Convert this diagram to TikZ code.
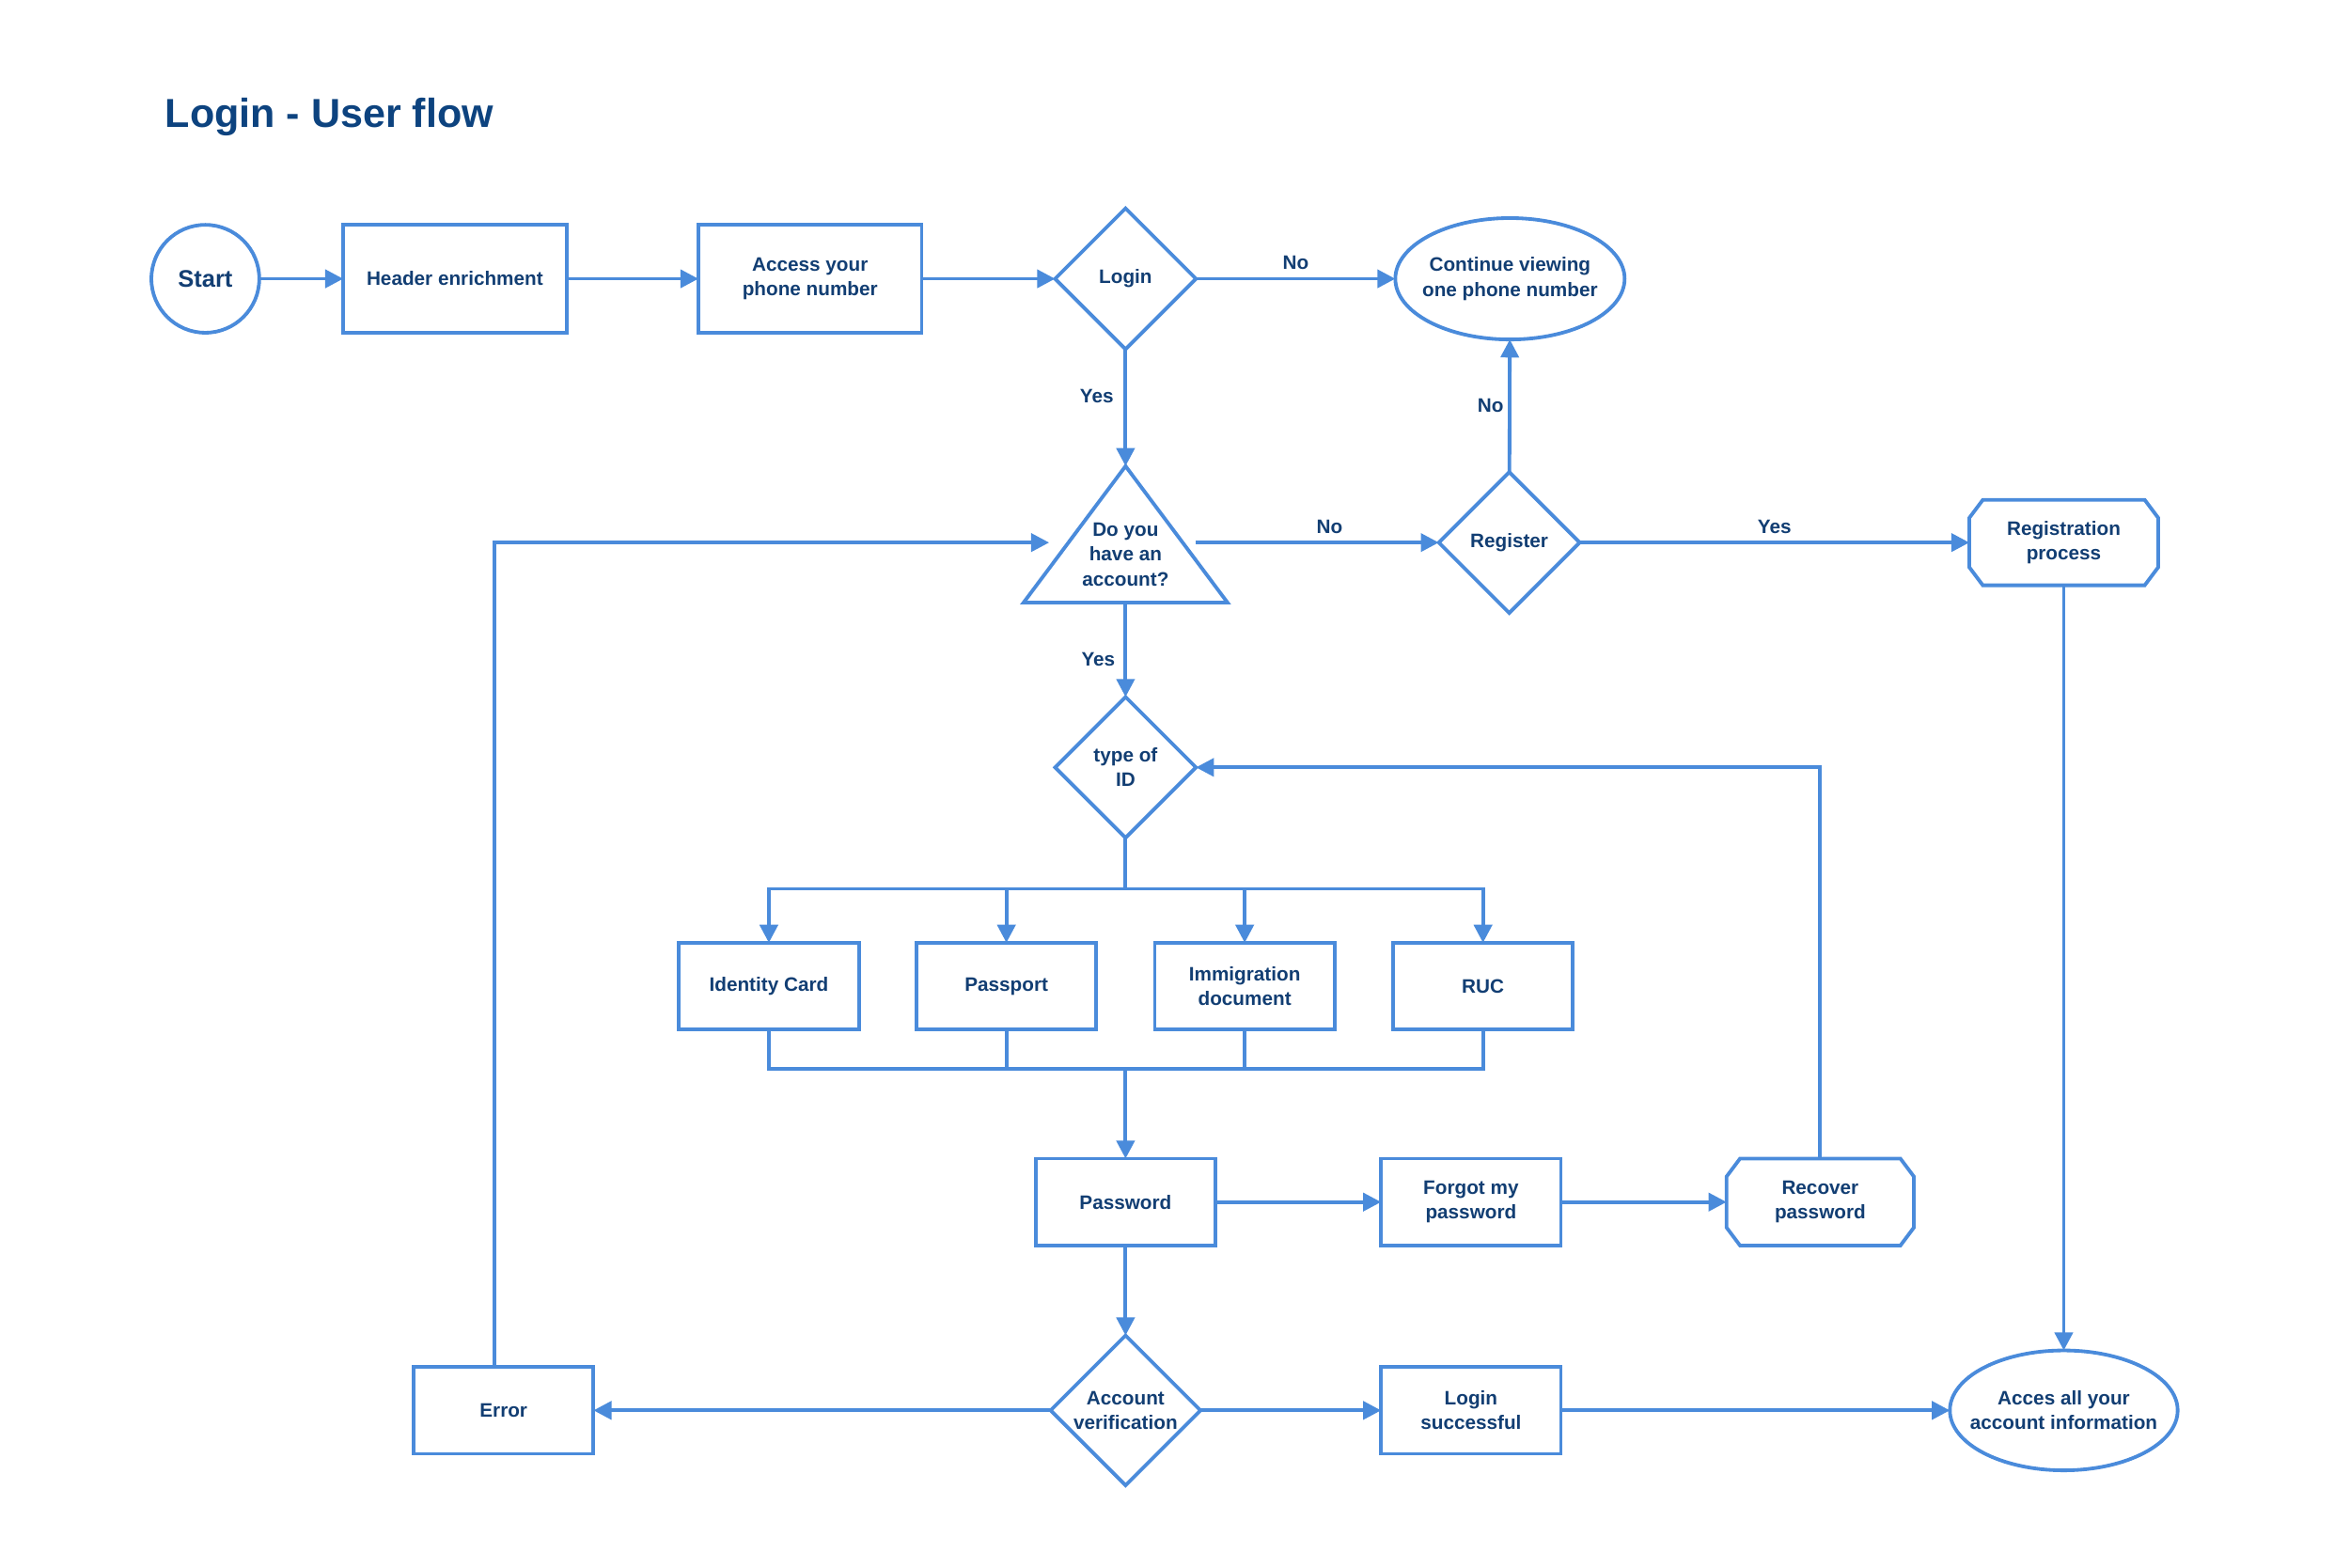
\documentclass[tikz,border=0pt]{standalone}
\usepackage{fontspec}
\setmainfont{Liberation Sans}
\usetikzlibrary{arrows.meta,shapes.geometric,calc}
\definecolor{lineblue}{HTML}{4A8BDB}
\definecolor{txtnavy}{HTML}{123E73}
\definecolor{titleblue}{HTML}{0D437F}
\newcommand\chamferbox[1]{%
  \draw[ln,line join=miter] ([xshift=9pt]#1.north west) -- ([xshift=-9pt]#1.north east)
    -- ([yshift=-12pt]#1.north east) -- ([yshift=12pt]#1.south east)
    -- ([xshift=-9pt]#1.south east) -- ([xshift=9pt]#1.south west)
    -- ([yshift=12pt]#1.south west) -- ([yshift=-12pt]#1.north west) -- cycle;}
\newcommand\ovalpath[3]{%
  \draw[ln] (#1.center) ellipse [x radius=#2, y radius=#3];}
\begin{document}
\begin{tikzpicture}[x=1pt,y=-1pt,
  base/.style={font=\fontsize{13}{16.5}\selectfont\bfseries, text=txtnavy, align=center, inner sep=0pt, outer sep=0pt},
  ln/.style={draw=lineblue, line width=2.4pt},
  arr/.style={ln, -{Triangle[length=12pt,width=12pt]}},
  box/.style={base, ln, rectangle, minimum width=120pt, minimum height=58pt},
  bigbox/.style={box, minimum width=149pt, minimum height=72pt},
  decision/.style={base, ln, diamond, aspect=1, minimum width=94pt, minimum height=94pt},
  plain/.style={base, minimum width=126pt, minimum height=57pt},
  lab/.style={base}
]
\fill[white] (0,0) rectangle (1568,1046);
\useasboundingbox (0,0) rectangle (1568,1046);

\node[anchor=base west, font=\fontsize{27}{32}\selectfont\bfseries, text=titleblue, inner sep=0pt] (title) at (110,85) {Login - User flow};

% row 1
\node[base, ln, circle, minimum size=72pt, font=\fontsize{16}{19}\selectfont\bfseries] (start) at (137,186) {Start};
\node[bigbox] (hdr) at (303.5,186) {Header enrichment};
\node[bigbox] (acc) at (540.5,186) {Access your\\phone number};
\node[decision] (login) at (751,186) {Login};
\node[plain, minimum width=153pt, minimum height=81pt] (cont) at (1007.5,186) {Continue viewing\\one phone number};
\ovalpath{cont}{76.5pt}{40.5pt}

% triangle
\node[base, minimum width=136pt, minimum height=91pt] (acct) at (751,356.5) {};
\draw[ln, line join=miter] (acct.south west) -- (acct.south east) -- (acct.north) -- cycle;
\node[base] (accttxt) at (751,370) {Do you\\have an\\account?};
\coordinate (acctR) at (798,362);
\coordinate (acctL) at (700,362);

\node[decision] (reg) at (1007,362) {Register};
\node[plain] (regp) at (1377,362) {Registration\\process};
\chamferbox{regp}

\node[decision] (tid) at (751,512) {type of\\ID};

\node[box] (idc) at (513,658) {Identity Card};
\node[box] (pas) at (671.5,658) {Passport};
\node[box] (imm) at (830.5,658) {Immigration\\document};
\node[box] (ruc) at (989.5,658) {RUC};

\node[box] (pwd) at (751,802) {Password};
\node[box] (fgt) at (981.5,802) {Forgot my\\password};
\node[plain, minimum width=125pt, minimum height=58pt] (rec) at (1214.5,802) {Recover\\password};
\chamferbox{rec}

\node[decision, minimum width=100pt, minimum height=100pt] (accv) at (751,941) {Account\\verification};
\node[box] (err) at (336,941) {Error};
\node[box] (lsc) at (981.5,941) {Login\\successful};
\node[plain, minimum width=152pt, minimum height=80pt] (all) at (1377,941) {Acces all your\\account information};
\ovalpath{all}{76pt}{40pt}

\coordinate (split) at (751,593);
\coordinate (merge) at (751,713);

% connectors
\draw[arr] (start) -- (hdr);
\draw[arr] (hdr) -- (acc);
\draw[arr] (acc) -- (login);
\draw[arr] (login) -- node[lab, above=6pt] (l1) {No} (cont);
\draw[arr] (login) -- node[lab, pos=0.4, left=8pt] (l2) {Yes} (acct.north);
\draw[arr] (acctR) -- node[lab, pos=0.55, above=6pt] (l3) {No} (reg);
\draw[arr] (reg) -- node[lab, left=4pt] (l4) {No} (cont);
\draw[arr] (reg) -- node[lab, above=6pt] (l5) {Yes} (regp);
\draw[arr] (regp.south) -- (all);
\draw[arr] (acct.south) -- node[lab, pos=0.6, left=7pt] (l6) {Yes} (tid);

\draw[ln] (tid.south) -- (split);
\draw[arr] (split) -| (idc);
\draw[arr] (split) -| (pas);
\draw[arr] (split) -| (imm);
\draw[arr] (split) -| (ruc);

\draw[ln] (idc.south) |- (merge);
\draw[ln] (pas.south) |- (merge);
\draw[ln] (imm.south) |- (merge);
\draw[ln] (ruc.south) |- (merge);
\draw[arr] (merge) -- (pwd);

\draw[arr] (pwd) -- (fgt);
\draw[arr] (fgt) -- (rec);
\draw[arr] (rec.north) |- (tid.east);
\draw[arr] (pwd) -- (accv);
\draw[arr] (accv) -- (err);
\draw[arr] (accv) -- (lsc);
\draw[arr] (lsc) -- (all);
\draw[arr] ([xshift=-6pt]err.north) |- (acctL);
\end{tikzpicture}
\end{document}
